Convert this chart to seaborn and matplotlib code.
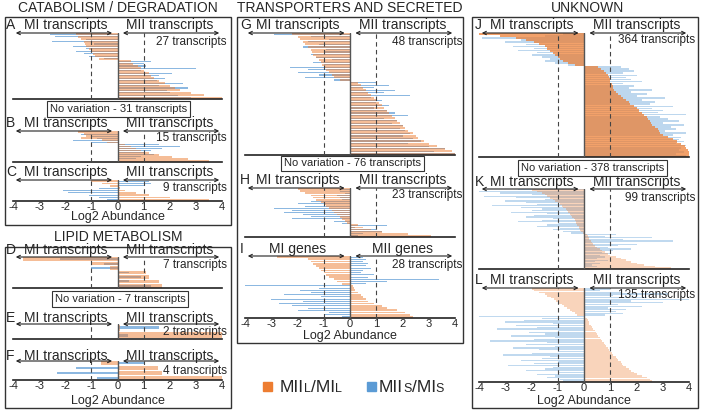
import matplotlib
matplotlib.use("Agg")
import matplotlib.pyplot as plt
from matplotlib.patches import Rectangle, FancyArrowPatch
import seaborn as sns

# valores (uma entrada por transcrito, de cima para baixo)
A_MIL = [-1.6, -1.5, -1.4, -1.3, -1.25, -1.2, -1.1, -1.0, -0.95, -0.85, -0.7,
         0.5, 0.6, 0.8, 0.9, 1.0, 1.2, 1.3, 1.4, 1.6, 1.8, 2.0, 2.2, 2.4, 2.8, 3.3, 4.0]
A_MIS = [-2.6, -2.4, -1.2, -2.5, -0.9, -1.7, -1.2, -1.6, -1.3, -1.1, -0.5,
         1.3, 1.0, 1.1, 3.0, 0.9, 2.1, 1.6, 1.8, 1.5, 2.5, 1.6, 2.7, 1.9, 2.0, 2.3, 2.8]
B_MIL = [-1.5, -1.3, -1.2, -1.4, -0.6, -0.4, 0.3, 0.5, 0.7, 0.9, 1.2, 1.6, 2.1, 2.7, 3.5]
B_MIS = [-0.5, -1.4, -1.0, -0.8, -1.7, -1.0, 1.6, 2.4, 1.7, 1.3, 1.0, 1.4, 0.9, 0.7, 0.5]
C_MIL = [-1.0, -0.6, -0.3, 0.1, 0.3, 0.7, 1.2, 2.0, 3.5]
C_MIS = [1.2, 1.3, 1.05, -0.7, -2.1, -1.9, -1.1, -0.7, -0.4]
D_MIL = [-3.6, -1.0, -0.3, 1.1, 1.2, 1.6, 1.7]
D_MIS = [-2.2, -0.5, -1.0, 0.45, 0.9, 0.45, 1.3]
E_MIL = [0.1, 4.0]
E_MIS = [1.6, 0.4]
F_MIL = [-0.65, 1.55, 1.7, 4.0]
F_MIS = [1.05, -1.6, -2.3, -0.8]
G_MIL = [-2.2, -2.0, -1.9, -1.8, -1.7, -1.6, -1.5, -1.45, -1.4, -1.3, -1.2, -1.1, -1.05,
         -1.0, -0.9, -0.8, -0.7, -0.6, -0.4,
         0.3, 0.4, 0.5, 0.6, 0.7, 0.8, 0.9, 1.0, 1.1, 1.2, 1.3, 1.4, 1.5, 1.6, 1.7, 1.8,
         1.9, 2.0, 2.1, 2.2, 2.4, 2.5, 2.6, 2.8, 3.0, 3.3, 3.6, 3.9, 4.0]
G_MIS = [-2.9, -1.5, -0.8, -1.6, -1.2, -1.8, -0.9, -1.0, -1.5, -1.3, -0.7, -1.4, -1.0,
         -2.3, -1.6, -2.0, -1.2, -1.7, -0.6,
         1.0, 1.5, 0.9, 1.7, 1.3, 2.3, 0.8, 1.2, 1.0, 1.5, 0.9, 1.4, 1.7, 2.2, 1.3, 1.8,
         1.6, 2.0, 1.9, 2.1, 2.3, 2.0, 2.4, 2.7, 2.2, 3.0, 3.6, 3.2, 4.0]
H_MIL = [-2.0, -1.9, -1.7, -1.5, -1.4, -1.3, -1.1, -1.0, -0.9, -0.8, -0.7, -0.6, -0.5,
         -0.4, -0.3, -0.2, -0.1, 0.3, 0.5, 0.8, 1.2, 2.2, 3.1]
H_MIS = [-0.3, -0.4, -0.2, -0.5, -0.4, -0.3, -1.5, -2.0, -1.7, -2.9, -2.2, -2.5, -1.8,
         -1.5, -2.2, -0.6, -0.3, 1.4, 0.2, 1.0, 1.2, 0.5, 0.3]
I_MIL = [-2.8, -1.6, -1.5, -1.4, -1.3, -1.2, -1.1, -1.0, -0.9, -0.8, -0.6, -0.5, -0.3,
         0.1, 0.15, 0.2, 0.3, 0.4, 0.5, 0.6, 0.7, 0.9, 1.2, 1.4, 1.8, 2.1, 2.3, 2.4]
I_MIS = [0.5, 0.6, 0.5, 0.7, 0.6, 0.8, 0.5, 0.4, 0.9, 0.7, 3.4, 1.4, 0.6,
         -4.0, -1.2, -1.9, -1.5, -2.5, -1.1, -3.0, -1.8, -2.7, -2.2, -1.6, -2.0, -0.8, -1.0, -0.3]
J_MIL = [-4.0, -3.2, -2.6, -2.2, -1.9, -1.7, -1.5, -1.4, -1.3, -1.2, -1.1, -1.0, -0.9,
         -0.8, -0.6, -0.35,
         0.55, 0.65, 0.75, 0.85, 0.9, 0.95, 1.0, 1.0, 1.05, 1.1, 1.1, 1.15, 1.2, 1.3,
         1.4, 1.5, 1.6, 1.7, 1.75, 1.9, 2.0, 2.1, 2.2, 2.3, 2.4, 2.45, 2.5, 2.55, 2.6,
         2.7, 2.8, 2.85, 2.9, 3.0, 3.2, 3.4, 3.55, 3.7, 3.85, 3.9, 3.95, 4.0, 4.0, 4.0]
J_MIS = [-0.8, -1.5, -3.9, -2.4, -3.0, -2.2, -2.7, -1.9, -2.5, -1.8, -2.0, -1.6, -1.3,
         -1.5, -1.1, -0.6,
         1.4, 1.7, 1.9, 1.5, 2.0, 1.6, 1.8, 2.2, 1.5, 1.9, 1.7, 2.6, 1.8, 2.4, 2.0, 3.1,
         2.2, 2.7, 2.5, 3.4, 2.6, 3.0, 2.8, 3.9, 2.9, 3.2, 3.6, 3.0, 3.8, 3.3, 3.5, 3.1,
         3.9, 3.4, 3.7, 3.6, 3.8, 3.5, 3.9, 3.7, 3.6, 3.8, 3.5, 3.9]
K_MIL = [-2.0, -1.8, -1.6, -1.5, -1.4, -1.3, -1.2, -1.1, -1.0, -0.9, -0.85, -0.8, -0.7,
         -0.65, -0.6, -0.55, -0.5, -0.45, -0.4, -0.35, -0.3, -0.3, -0.25, -0.2, -0.2,
         -0.15, -0.1, -0.05,
         0.1, 0.15, 0.2, 0.2, 0.25, 0.3, 0.35, 0.4, 0.5, 0.6, 0.7, 0.8, 0.9, 1.0, 1.2,
         1.4, 1.6, 1.8, 2.0, 2.3, 2.7, 3.3]
K_MIS = [-2.5, -4.0, -3.2, -2.0, -3.8, -2.6, -1.5, -3.0, -2.2, -1.8, -3.5, -2.4, -1.6,
         -2.0, -2.8, -1.4, -1.9, -2.2, -1.2, -1.6, -2.5, -1.0, -1.4, -1.8, -0.9, -1.2,
         -0.8, -0.5,
         1.2, 0.8, 2.6, 1.5, 3.4, 1.0, 2.0, 1.3, 0.9, 1.8, 1.1, 0.7, 1.0, 0.6, 0.8, 0.5,
         0.9, 0.4, 0.6, 0.3, 0.5, 0.2]
L_MIL = [-2.0, -1.9, -1.7, -1.5, -1.4, -1.25, -1.15, -1.05, -0.95, -0.85, -0.75, -0.65,
         -0.55, -0.45, -0.35, -0.25,
         0.05, 0.1, 0.15, 0.2, 0.2, 0.25, 0.3, 0.35, 0.4, 0.45, 0.5, 0.55, 0.6, 0.65, 0.7,
         0.75, 0.8, 0.85, 0.9, 0.95, 1.0, 1.05, 1.1, 1.2, 1.25, 1.3, 1.4, 1.45, 1.5, 1.6,
         1.7, 1.8, 1.9, 2.0, 2.2, 2.4, 2.5, 2.6]
L_MIS = [1.0, 0.6, 1.4, 3.2, 1.1, 2.4, 4.0, 1.8, 3.0, 1.3, 2.2, 0.9, 1.6, 1.2, 1.5, 0.8,
         -4.0, -1.6, -2.3, -3.0, -1.2, -2.6, -1.8, -3.3, -1.0, -2.1, -1.5, -2.8, -1.1,
         -1.9, -3.6, -1.4, -2.2, -1.1, -2.7, -1.7, -1.0, -2.0, -3.1, -1.3, -1.6, -2.4,
         -1.0, -1.9, -2.9, -1.2, -1.5, -2.2, -1.0, -1.8, -1.1, -1.4, -0.9, -0.8]

TICKS = [-4, -3, -2, -1, 0, 1, 2, 3, 4]

LARANJA = "#ed7d31"
AZUL = "#5b9bd5"
W, H = 702, 412


def fx(x):
    return x / W


def fy(y):
    return 1 - y / H


sns.set_style("white")
plt.rcParams["font.family"] = ["Liberation Sans", "DejaVu Sans"]
plt.rcParams["axes.unicode_minus"] = False

fig = plt.figure(figsize=(W / 100, H / 100), dpi=100)

COLS = {"esq": (13, 222), "meio": (245, 455), "dir": (479, 689)}
COUNT_X = {"esq": 227, "meio": 462, "dir": 695}
LETRA_X = {"esq": 6, "meio": 240, "dir": 475}

ESTILOS = {
    "normal": dict(ao=0.5, ab=0.7, wo=0.8, wb=0.45),
    "denso": dict(ao=0.72, ab=0.4, wo=1.0, wb=0.8),
    "claro": dict(ao=0.33, ab=0.38, wo=0.95, wb=0.75),
}

# letra, coluna, y cabeçalho, y seta, y base, y contagem, contagem, MIL, MIS, eixo, estilo, rótulos
PAINEIS = [
    ("A", "esq", 25, 33, 99, 42, "27 transcripts", A_MIL, A_MIS, False, "normal", None),
    ("B", "esq", 123, 131, 162, 138, "15 transcripts", B_MIL, B_MIS, False, "normal", None),
    ("C", "esq", 172, 180, 201, 188, "9 transcripts", C_MIL, C_MIS, True, "normal", None),
    ("D", "esq", 250, 257, 288, 265, "7 transcripts", D_MIL, D_MIS, False, "normal", None),
    ("E", "esq", 318, 324, 339, 332, "2 transcripts", E_MIL, E_MIS, False, "normal", None),
    ("F", "esq", 356, 361, 380, 371, "4 transcripts", F_MIL, F_MIS, True, "normal", None),
    ("G", "meio", 25, 33, 155, 42, "48 transcripts", G_MIL, G_MIS, False, "normal", None),
    ("H", "meio", 180, 188, 237, 195, "23 transcripts", H_MIL, H_MIS, False, "normal", None),
    ("I", "meio", 249, 256, 318, 265, "28 transcripts", I_MIL, I_MIS, True, "normal",
     ("MI genes", "MII genes")),
    ("J", "dir", 25, 33, 157, 40, "364 transcripts", J_MIL, J_MIS, False, "denso", None),
    ("K", "dir", 182, 189, 269, 198, "99 transcripts", K_MIL, K_MIS, False, "claro", None),
    ("L", "dir", 280, 288, 382, 295, "135 transcripts", L_MIL, L_MIS, True, "claro", None),
]


def desenha_painel(letra, col, y_cab, y_seta, y_base, y_cont, cont, mil, mis, eixo, estilo, rotulos):
    x0, x1 = COLS[col]
    ax = fig.add_axes([fx(x0), fy(y_base), fx(x1) - fx(x0), (y_base - y_seta) / H])
    st = ESTILOS[estilo]
    idx = list(range(len(mil)))
    sns.barplot(x=mis, y=idx, orient="h", color=AZUL, alpha=st["ab"], width=st["wb"],
                saturation=1, errorbar=None, linewidth=0, ax=ax)
    sns.barplot(x=mil, y=idx, orient="h", color=LARANJA, alpha=st["ao"], width=st["wo"],
                saturation=1, errorbar=None, linewidth=0, ax=ax)
    ax.set_xlim(-4, 4)
    ax.set_ylim(len(mil) - 0.5, -0.5)
    ax.set_xlabel("")
    ax.set_ylabel("")
    ax.set_yticks([])
    ax.patch.set_alpha(0)
    for s in ["top", "left", "right"]:
        ax.spines[s].set_visible(False)
    ax.spines["bottom"].set_color("#222222")
    ax.spines["bottom"].set_linewidth(1.2)
    ax.axvline(0, color="#555555", lw=1.0, zorder=5)
    for v in (-1, 1):
        ax.axvline(v, color="#444444", lw=0.8, ls=(0, (4, 3)), zorder=5)
    if eixo:
        ax.set_xticks(TICKS)
        ax.set_xticklabels([str(t) for t in TICKS], fontsize=8)
        ax.tick_params(axis="x", length=2, pad=0.5, direction="in")
    else:
        ax.set_xticks([])

    def px(v):
        return x0 + (v + 4) / 8 * (x1 - x0)

    esq, dirt = rotulos if rotulos else ("MI transcripts", "MII transcripts")
    fig.text(fx(LETRA_X[col]), fy(y_cab), letra, fontsize=10, ha="left", va="center")
    fig.text(fx(px(-2)), fy(y_cab), esq, fontsize=10, ha="center", va="center")
    fig.text(fx(px(2)), fy(y_cab), dirt, fontsize=10, ha="center", va="center")
    for a, b in ((px(-0.1), px(-4)), (px(0.1), px(4))):
        seta = FancyArrowPatch((fx(a), fy(y_seta)), (fx(b), fy(y_seta)),
                               arrowstyle="<->,head_length=0.3,head_width=0.15",
                               mutation_scale=8, lw=0.8, color="#222222",
                               transform=fig.transFigure)
        fig.add_artist(seta)
    fig.text(fx(COUNT_X[col]), fy(y_cont), cont, fontsize=8.5, ha="right", va="center")


for p in PAINEIS:
    desenha_painel(*p)

# molduras
for (a, b, c, d) in [(5, 17, 231, 225), (5, 247, 231, 408), (237, 17, 463, 343), (472, 17, 698, 408)]:
    fig.add_artist(Rectangle((fx(a), fy(d)), fx(c) - fx(a), (d - b) / H, fill=False,
                             ec="#333333", lw=1.0, transform=fig.transFigure))

# títulos
for txt, x, y in [("CATABOLISM / DEGRADATION", 118, 8), ("LIPID METABOLISM", 118, 237),
                  ("TRANSPORTERS AND SECRETED", 350, 8), ("UNKNOWN", 587, 8)]:
    fig.text(fx(x), fy(y), txt, fontsize=10, ha="center", va="center")

for x, y in [(118, 217), (118, 401), (350, 336), (584, 401)]:
    fig.text(fx(x), fy(y), "Log2 Abundance", fontsize=9, ha="center", va="center")

# caixas "No variation"
for txt, x, y in [("No variation - 31 transcripts", 118.5, 109), ("No variation - 7 transcripts", 120, 299),
                  ("No variation - 76 transcripts", 352.5, 163.5), ("No variation - 378 transcripts", 592.5, 168)]:
    fig.text(fx(x), fy(y), txt, fontsize=8, ha="center", va="center",
             bbox=dict(boxstyle="square,pad=0.25", fc="white", ec="#333333", lw=0.8))

# legenda com versaletes
r = fig.canvas.get_renderer()


def texto_composto(x, y, partes):
    for s, tam in partes:
        t = fig.text(fx(x), fy(y), s, fontsize=tam, ha="left", va="baseline")
        x += t.get_window_extent(renderer=r).width


for cor, xq, xt, sub in [(LARANJA, 263, 280, "L"), (AZUL, 367, 379, "S")]:
    fig.add_artist(Rectangle((fx(xq), fy(391)), 9 / W, 9 / H, color=cor, transform=fig.transFigure))
    texto_composto(xt, 392, [("MII", 12.5), (sub, 9), ("/MI", 12.5), (sub, 9)])

fig.savefig("out.png", dpi=100)
